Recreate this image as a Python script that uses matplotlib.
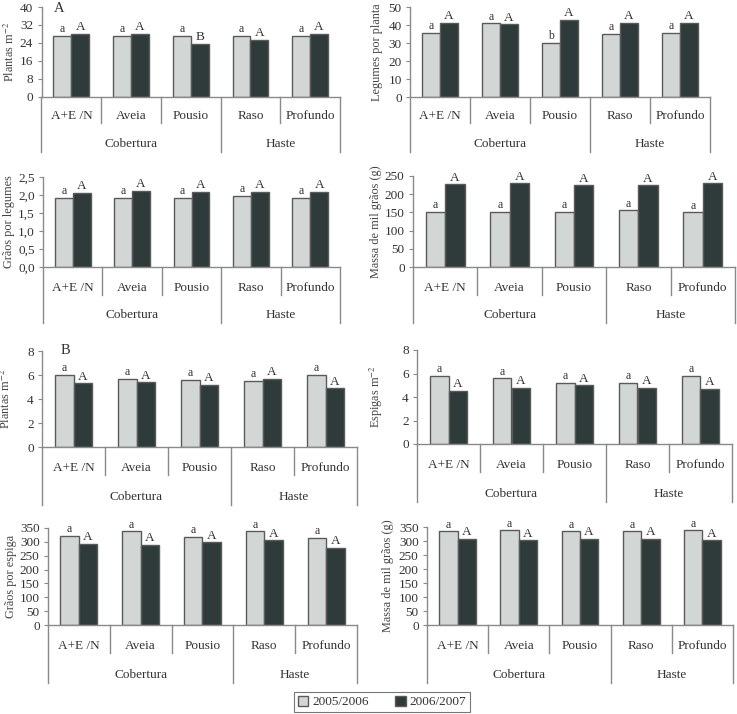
import matplotlib
matplotlib.use('Agg')
import matplotlib.pyplot as plt
import matplotlib.transforms as mtransforms
from matplotlib.patches import Patch
from matplotlib.ticker import FuncFormatter

plt.rcParams['font.family'] = ['Liberation Serif', 'DejaVu Serif']
plt.rcParams['mathtext.fontset'] = 'stix'

W, H = 737, 714

categories = ['A+E /N', 'Aveia', 'Pousio', 'Raso', 'Profundo']
groups = ['Cobertura', 'Haste']
seasons = ['2005/2006', '2006/2007']

# soja (A)
plantas_a_0506 = [27.1, 27.1, 27.1, 27.1, 27.1]
plantas_a_0607 = [28.1, 28.1, 23.7, 25.2, 28.1]
plantas_a_let = [('a', 'A'), ('a', 'A'), ('a', 'B'), ('a', 'A'), ('a', 'A')]

legumes_0506 = [35.8, 41.0, 30.0, 35.3, 35.8]
legumes_0607 = [41.2, 40.4, 43.0, 41.2, 41.2]
legumes_let = [('a', 'A'), ('a', 'A'), ('b', 'A'), ('a', 'A'), ('a', 'A')]

graos_leg_0506 = [1.93, 1.93, 1.93, 1.97, 1.93]
graos_leg_0607 = [2.06, 2.12, 2.09, 2.09, 2.09]

massa_a_0506 = [152, 152, 152, 156, 150]
massa_a_0607 = [227, 230, 224, 224, 230]

# milho (B)
plantas_b_0506 = [6.0, 5.7, 5.6, 5.5, 6.0]
plantas_b_0607 = [5.3, 5.4, 5.2, 5.7, 4.9]

espigas_0506 = [5.8, 5.6, 5.2, 5.2, 5.8]
espigas_0607 = [4.5, 4.8, 5.0, 4.8, 4.7]

graos_esp_0506 = [322, 338, 317, 338, 314]
graos_esp_0607 = [292, 288, 298, 305, 279]

massa_b_0506 = [335, 338, 335, 335, 338]
massa_b_0607 = [308, 302, 308, 308, 302]

same_let = [('a', 'A')] * 5

light = '#d2d7d5'
dark = '#2f3b3a'
edge = '#5a5a5a'
axis_col = '#8a8a8a'
txt_col = '#333333'

fig = plt.figure(figsize=(W / 100, H / 100), dpi=100)


def fmt_comma(v, pos):
    return ('%.1f' % v).replace('.', ',')


def panel(px, v1, v2, letters, ylabel, ymax, ystep, tag=None, comma=False, lpad=4):
    x0, x1, ytop, y0, ycat, ygrp, ycat_txt, ygrp_txt = px
    ax = fig.add_axes([x0 / W, 1 - y0 / H, (x1 - x0) / W, (y0 - ytop) / H])
    xs = list(range(len(categories)))
    ax.bar([x - 0.15 for x in xs], v1, 0.3, color=light, edgecolor=edge, linewidth=1.0)
    ax.bar([x + 0.15 for x in xs], v2, 0.3, color=dark, edgecolor=edge, linewidth=1.0)
    for x, a, b, (l1, l2) in zip(xs, v1, v2, letters):
        ax.annotate(l1, (x - 0.15, a), xytext=(0, 0.5), textcoords='offset points',
                    ha='center', va='bottom', fontsize=8.5, color=txt_col)
        ax.annotate(l2, (x + 0.15, b), xytext=(0, 0.5), textcoords='offset points',
                    ha='center', va='bottom', fontsize=9.5, color=txt_col)
    ax.set_xlim(-0.5, len(categories) - 0.5)
    ax.set_ylim(0, ymax)
    ticks = [i * ystep for i in range(int(round(ymax / ystep)) + 1)]
    ax.set_yticks(ticks)
    if comma:
        ax.yaxis.set_major_formatter(FuncFormatter(fmt_comma))
    ax.set_xticks([])
    for s in ['top', 'right']:
        ax.spines[s].set_visible(False)
    for s in ['left', 'bottom']:
        ax.spines[s].set_color(axis_col)
        ax.spines[s].set_linewidth(1.0)
    ax.tick_params(axis='y', length=3, color=axis_col, labelsize=9.5, pad=3, labelcolor=txt_col)
    ax.set_ylabel(ylabel, fontsize=8.8, color='#444444', labelpad=lpad)
    ax.set_facecolor('none')

    # table below the axis
    h = y0 - ytop
    fcat = -(ycat - y0) / h
    fgrp = -(ygrp - y0) / h
    ftc = -(ycat_txt - y0) / h
    ftg = -(ygrp_txt - y0) / h
    tr = mtransforms.blended_transform_factory(ax.transData, ax.transAxes)
    n = len(categories)
    for i in range(n + 1):
        xb = i - 0.5
        bottom = fgrp if i in (0, 3, n) else fcat
        ax.plot([xb, xb], [0, bottom], transform=tr, color=axis_col, lw=1.0, clip_on=False)
    for i, c in enumerate(categories):
        ax.text(i, ftc, c, transform=tr, ha='center', va='center', fontsize=9.5, color=txt_col)
    ax.text(1.0, ftg, groups[0], transform=tr, ha='center', va='center', fontsize=9.5, color=txt_col)
    ax.text(3.5, ftg, groups[1], transform=tr, ha='center', va='center', fontsize=9.5, color=txt_col)
    if tag:
        ax.text(tag[0], tag[1], tag[2], transform=ax.transAxes, fontsize=10.5, va='center',
                ha='left', color=txt_col)
    return ax


panel((41.5, 340, 7, 96.7, 123, 152, 116, 144), plantas_a_0506, plantas_a_0607, plantas_a_let,
      'Plantas m$^{-2}$', 40, 8, tag=(0.04, 0.98, 'A'), lpad=2)
panel((410, 710, 7, 97.3, 123, 152, 116, 144), legumes_0506, legumes_0607, legumes_let,
      'Legumes por planta', 50, 10)
panel((43, 340, 177, 267, 295, 323, 288, 315), graos_leg_0506, graos_leg_0607, same_let,
      'Grãos por legumes', 2.5, 0.5, comma=True, lpad=2)
panel((413, 735, 176, 267, 295, 323, 288, 315), massa_a_0506, massa_a_0607, same_let,
      'Massa de mil grãos (g)', 250, 50, lpad=2)
panel((42, 357, 351, 447, 475, 505, 468, 497), plantas_b_0506, plantas_b_0607, same_let,
      'Plantas m$^{-2}$', 8, 2, tag=(0.06, 1.0, 'B'), lpad=10)
panel((417, 732, 350, 444, 472, 502, 465, 494), espigas_0506, espigas_0607, same_let,
      'Espigas m$^{-2}$', 8, 2, lpad=12)
panel((48, 357, 528, 625, 653, 683, 646, 675), graos_esp_0506, graos_esp_0607, same_let,
      'Grãos por espiga', 350, 50, lpad=2)
panel((427, 733, 527, 625, 653, 683, 646, 675), massa_b_0506, massa_b_0607, same_let,
      'Massa de mil grãos (g)', 350, 50, lpad=3)

handles = [Patch(facecolor=light, edgecolor=edge, label=seasons[0]),
           Patch(facecolor=dark, edgecolor=edge, label=seasons[1])]
leg = fig.legend(handles=handles, loc='center', bbox_to_anchor=(382 / W, 1 - 702 / H), ncol=2,
                 fontsize=9.5, fancybox=False, edgecolor='#555555', handlelength=0.8,
                 handleheight=0.8, handletextpad=0.3, columnspacing=2.0, borderpad=0.3)
leg.get_frame().set_linewidth(0.8)
for t in leg.get_texts():
    t.set_color(txt_col)

fig.savefig('out.png', dpi=100)
